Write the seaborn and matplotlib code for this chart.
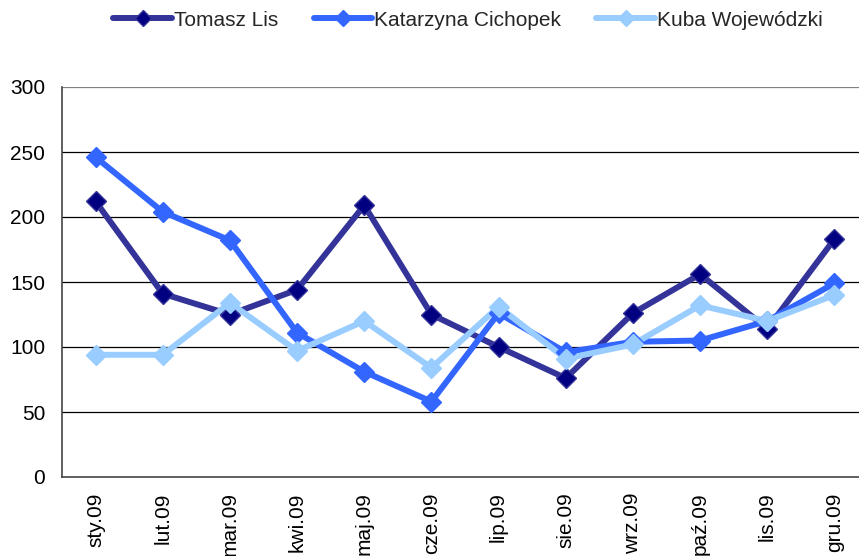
import matplotlib
matplotlib.use("Agg")
import matplotlib.pyplot as plt
import seaborn as sns
import pandas as pd

months = ["sty.09", "lut.09", "mar.09", "kwi.09", "maj.09", "cze.09",
          "lip.09", "sie.09", "wrz.09", "paź.09", "lis.09", "gru.09"]
tomasz = [212, 141, 125, 144, 209, 125, 100, 76, 126, 156, 114, 183]
katarzyna = [246, 204, 182, 111, 81, 58, 126, 96, 104, 105, 120, 149]
kuba = [94, 94, 134, 97, 120, 84, 131, 91, 102, 132, 120, 140]
series_names = ["Tomasz Lis", "Katarzyna Cichopek", "Kuba Wojewódzki"]
y_ticks = [0, 50, 100, 150, 200, 250, 300]

sns.set_theme(style="white")
plt.rcParams['font.family'] = ['Liberation Sans', 'DejaVu Sans']

df = pd.DataFrame({"month": months * 3,
                   "pos": list(range(len(months))) * 3,
                   "value": tomasz + katarzyna + kuba,
                   "series": [series_names[0]] * 12 + [series_names[1]] * 12 + [series_names[2]] * 12})

line_colors = {series_names[0]: "#333399", series_names[1]: "#3366FF", series_names[2]: "#99CCFF"}
marker_colors = {series_names[0]: "#000080", series_names[1]: "#3366FF", series_names[2]: "#99CCFF"}

fig = plt.figure(figsize=(8.59, 5.56), dpi=100)
W, H = 859, 556
ax = fig.add_axes([62 / W, (H - 477) / H, (868 - 62) / W, (477 - 87) / H])

sns.lineplot(data=df, x="pos", y="value", hue="series", palette=line_colors,
             linewidth=4.3, ax=ax, legend=False, sort=False)
for name in series_names:
    sub = df[df.series == name]
    ax.plot(sub.pos, sub.value, linestyle="none", marker="D", markersize=10.5,
            markerfacecolor=marker_colors[name], markeredgecolor=line_colors[name],
            markeredgewidth=1, zorder=5)

ax.set_xlim(-0.5, 11.5)
ax.set_ylim(0, 300)
ax.set_yticks(y_ticks)
ax.set_yticklabels([str(v) for v in y_ticks], fontsize=15, color="black")
ax.set_xticks(range(len(months)))
ax.set_xticklabels(months, rotation=90, fontsize=15, color="black", va="top")
ax.set_xticks([i - 0.5 for i in range(len(months) + 1)], minor=True)
ax.tick_params(axis="x", which="major", length=0, pad=11)
ax.tick_params(axis="x", which="minor", length=5, width=1, color="#444444", direction="out")
ax.tick_params(axis="y", length=5, width=1, color="#444444", direction="out", pad=7)
ax.set_xlabel("")
ax.set_ylabel("")
for y in y_ticks[1:]:
    ax.axhline(y, color="black" if y < 300 else "#808080", linewidth=0.9, zorder=0)
for s in ["top", "right"]:
    ax.spines[s].set_visible(False)
ax.spines["left"].set_color("#444444")
ax.spines["left"].set_linewidth(1.2)
ax.spines["bottom"].set_color("#444444")
ax.spines["bottom"].set_linewidth(1.2)
ax.grid(False)

from matplotlib.lines import Line2D
handles = [Line2D([0], [0], color=line_colors[n], linewidth=4.3, marker="D", markersize=8,
                  markerfacecolor=marker_colors[n], markeredgecolor=line_colors[n]) for n in series_names]
fig.legend(handles, series_names, loc="center", bbox_to_anchor=(468 / W, 1 - 20 / H), ncol=3,
           frameon=False, fontsize=15, handlelength=2.8, handletextpad=0.1, columnspacing=1.7)

fig.savefig("out.png", dpi=100)
